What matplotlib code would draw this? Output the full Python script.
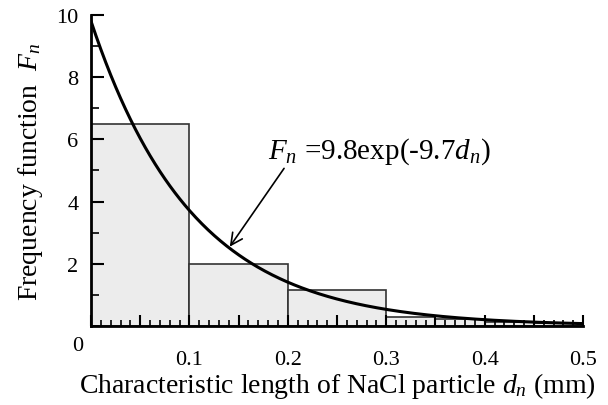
import numpy as np
import matplotlib
matplotlib.use("Agg")
import matplotlib.pyplot as plt
from matplotlib.ticker import MultipleLocator, FixedLocator

plt.rcParams['font.family'] = ['Liberation Serif', 'DejaVu Serif']
plt.rcParams['mathtext.fontset'] = 'custom'
plt.rcParams['mathtext.rm'] = 'Liberation Serif'
plt.rcParams['mathtext.it'] = 'Liberation Serif:italic'

# histogram bins (mm) and frequency values
bin_edges = [0.0, 0.1, 0.2, 0.3, 0.35, 0.4, 0.45, 0.5]
bin_heights = [6.5, 2.0, 1.17, 0.28, 0.24, 0.13, 0.10]

# fitted curve Fn = A exp(-k dn)
fit_A = 9.8
fit_k = 9.7

x_tick_values = [0.1, 0.2, 0.3, 0.4, 0.5]
x_tick_labels = ['0.1', '0.2', '0.3', '0.4', '0.5']
y_tick_values = [2, 4, 6, 8, 10]
y_tick_labels = ['2', '4', '6', '8', '10']

fig = plt.figure(figsize=(6.08, 4.06), dpi=100)
ax = fig.add_axes([0.1497, 0.1946, 0.8093, 0.766])
ax.set_axisbelow(False)

lefts = np.array(bin_edges[:-1])
widths = np.diff(bin_edges)
ax.bar(lefts, bin_heights, width=widths, align='edge', color='#ececec',
       edgecolor='#333333', linewidth=1.2, zorder=2)

xs = np.linspace(0, 0.5, 400)
ax.plot(xs, fit_A * np.exp(-fit_k * xs), color='black', linewidth=2.2, zorder=3)

ax.set_xlim(0, 0.5)
ax.set_ylim(0, 10)

for s in ['top', 'right']:
    ax.spines[s].set_visible(False)
for s in ['left', 'bottom']:
    ax.spines[s].set_linewidth(2)
    ax.spines[s].set_zorder(4)

ax.xaxis.set_major_locator(FixedLocator(np.arange(0, 0.501, 0.05)))
major_x_labels = []
for v in np.arange(0, 0.501, 0.05):
    lab = ''
    for tv, tl in zip(x_tick_values, x_tick_labels):
        if abs(v - tv) < 1e-6:
            lab = tl
    major_x_labels.append(lab)
ax.set_xticklabels(major_x_labels)
ax.xaxis.set_minor_locator(MultipleLocator(0.01))

ax.yaxis.set_major_locator(FixedLocator(y_tick_values))
ax.set_yticklabels(y_tick_labels)
ax.yaxis.set_minor_locator(MultipleLocator(1))

ax.tick_params(axis='both', which='major', direction='in', length=8, width=1.5,
               labelsize=16, colors='black')
ax.tick_params(axis='both', which='minor', direction='in', length=4, width=1.2)
ax.tick_params(axis='x', which='major', pad=17)
ax.tick_params(axis='y', which='major', pad=9, length=9)
ax.tick_params(axis='y', which='minor', length=6)

fig.text(78 / 608, 1 - 347 / 406, '0', fontsize=16, ha='center', va='center')

ax.set_xlabel(r'Characteristic length of NaCl particle $d_n$ (mm)', fontsize=20, labelpad=1)
ax.set_ylabel(r'Frequency function  $F_n$', fontsize=20, labelpad=8)

ax.annotate(r'$F_n$ =9.8exp(-9.7$d_n$)', xy=(0.141, 2.55), xytext=(0.18, 5.65),
            fontsize=21, va='center', ha='left',
            arrowprops=dict(arrowstyle='->', color='black', lw=1.2,
                            shrinkA=0, shrinkB=0, relpos=(0.08, 0.0)))

fig.savefig('out.png', dpi=100)
